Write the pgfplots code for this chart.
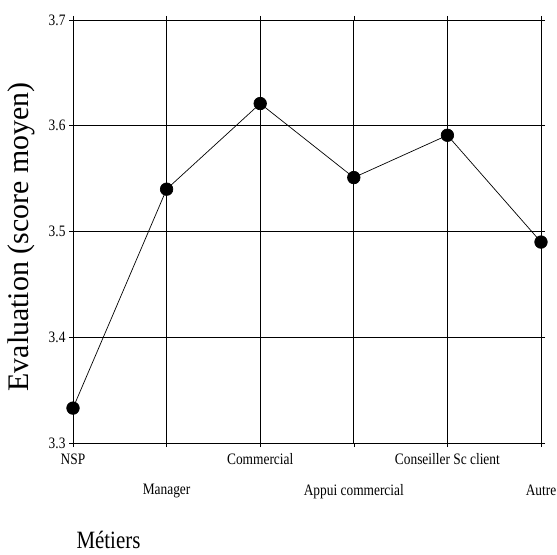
\documentclass[border=0pt]{standalone}
\usepackage{pgfplots}
\pgfplotsset{compat=1.18}
\usepackage{fontspec}
\setmainfont{Liberation Serif}
\newfontfamily\condfont[FakeStretch=0.84]{Liberation Serif}
\begin{document}
\begin{tikzpicture}
\begin{axis}[
  at={(73bp,112bp)}, anchor=south west,
  scale only axis, width=468bp, height=423bp,
  xmin=0, xmax=5, ymin=3.3, ymax=3.7,
  xtick={0,2,4},
  xticklabels={NSP,Commercial,Conseiller Sc client},
  xticklabel style={yshift=-3bp},
  extra x ticks={1,3,5},
  extra x tick labels={Manager,Appui commercial,Autre},
  extra x tick style={grid=major, xticklabel style={yshift=-31bp}},
  ytick={3.3,3.4,3.5,3.6,3.7},
  yticklabels={3.3,3.4,3.5,3.6,3.7},
  grid=major,
  major grid style={black, line width=0.7pt},
  axis line style={black, line width=0.8pt},
  tick style={black, line width=0.6pt},
  tick align=outside, major tick length=4bp,
  tick label style={font=\condfont\fontsize{16}{17}\selectfont},
  /pgf/number format/assume math mode=true,
  ylabel={Evaluation (score moyen)},
  ylabel style={font=\fontsize{30}{32}\selectfont, at={(axis description cs:-0.111,0.487)}, anchor=center, rotate=0},
  xlabel={Métiers},
  xlabel style={font=\condfont\fontsize{25}{27}\selectfont, at={(axis description cs:0,-0.258)}, anchor=south west},
  clip=false,
]
\addplot[black, line width=0.7pt, mark=*, mark size=6.3pt, mark options={fill=black}]
  coordinates {(0,3.333) (1,3.54) (2,3.621) (3,3.551) (4,3.591) (5,3.49)};
\end{axis}
\pgfresetboundingbox
\useasboundingbox (0,0) rectangle (557bp,555bp);
\end{tikzpicture}
\end{document}
